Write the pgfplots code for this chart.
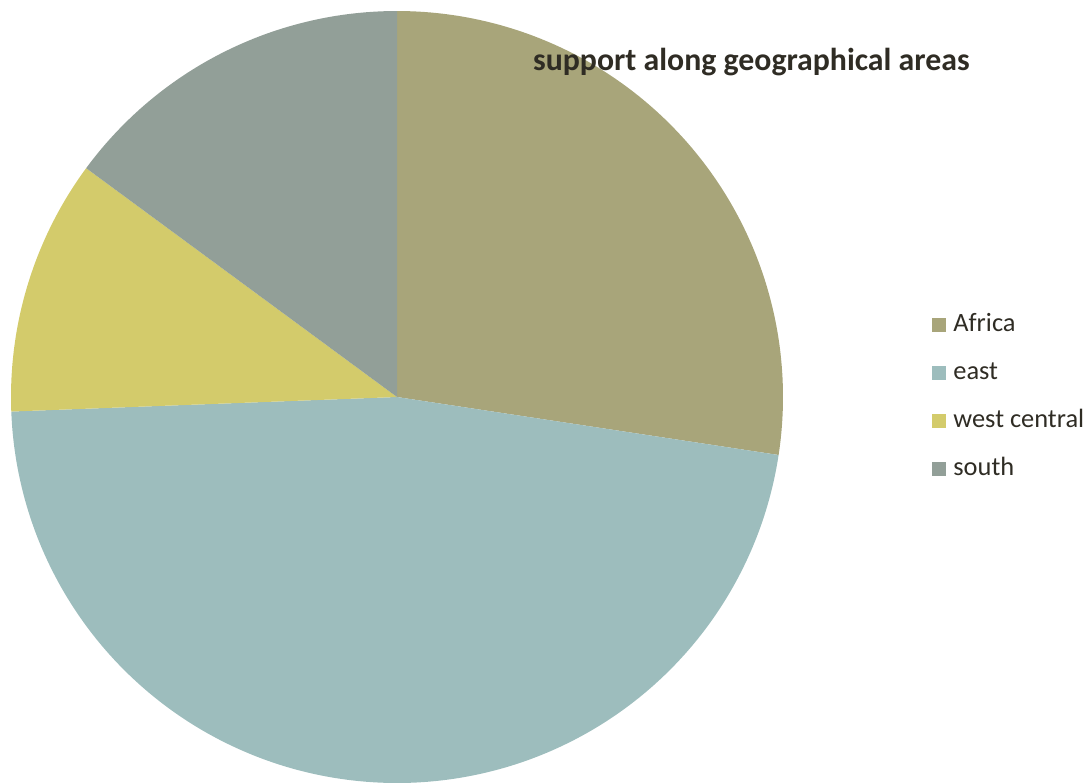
\documentclass[border=0pt]{standalone}
\usepackage{pgfplots}
\pgfplotsset{compat=1.18}
\usepackage{pgfplotstable}
\usepackage{fontspec}
\setmainfont{Carlito}

\definecolor{cAfrica}{HTML}{A8A57A}
\definecolor{cEast}{HTML}{9DBDBD}
\definecolor{cWest}{HTML}{D3CB6B}
\definecolor{cSouth}{HTML}{929F98}
\definecolor{txt}{HTML}{2F2C24}

% share of each area, in percent
\pgfplotstableread[col sep=comma]{
area,value
Africa,27.4
east,47.0
west central,10.7
south,14.9
}\piedata

% slice angles, clockwise from 12 o'clock
\def\cum{0}
\pgfplotsforeachungrouped \i in {0,...,3}{%
  \pgfplotstablegetelem{\i}{value}\of\piedata
  \pgfmathsetmacro\cumnew{\cum+\pgfplotsretval}%
  \pgfmathsetmacro\a{90-3.6*\cum}%
  \pgfmathsetmacro\b{90-3.6*\cumnew}%
  \edef\L{\ifcase\i A\or B\or C\or D\fi}%
  \expandafter\xdef\csname angStart\L\endcsname{\a}%
  \expandafter\xdef\csname angEnd\L\endcsname{\b}%
  \xdef\cum{\cumnew}%
}

\begin{document}
\begin{tikzpicture}
\useasboundingbox (-198.5pt,-192.5pt) rectangle (346.5pt,198.5pt);
\begin{axis}[
    at={(0pt,0pt)}, anchor=center,
    scale only axis, width=386pt, height=386pt,
    xmin=-1, xmax=1, ymin=-1, ymax=1,
    hide axis, clip=false,
    title={\textbf{support along geographical areas}},
    title style={at={(0.959,0.908)}, anchor=base, font=\fontsize{15.9}{18}\selectfont, text=txt},
    legend style={at={(axis cs:1.386,0)}, anchor=west, draw=none, fill=none,
        inner sep=0pt, row sep=13pt, font=\fontsize{13.2}{15}\selectfont, text=txt,
        nodes={inner sep=0pt, text height=8.5pt, text depth=2.5pt}},
    legend cell align=left,
    legend image code/.code={\fill[#1] (0pt,-3.5pt) rectangle (7pt,3.5pt);},
    /tikz/every odd column/.append style={column sep=3.5pt},
]
\addplot[fill=cAfrica, draw=none, domain=\angEndA:\angStartA, samples=120]
    ({cos(x)},{sin(x)}) -- (axis cs:0,0) -- cycle;
\addlegendentry{Africa}
\addplot[fill=cEast, draw=none, domain=\angEndB:\angStartB, samples=180]
    ({cos(x)},{sin(x)}) -- (axis cs:0,0) -- cycle;
\addlegendentry{east}
\addplot[fill=cWest, draw=none, domain=\angEndC:\angStartC, samples=60]
    ({cos(x)},{sin(x)}) -- (axis cs:0,0) -- cycle;
\addlegendentry{west central}
\addplot[fill=cSouth, draw=none, domain=\angEndD:\angStartD, samples=60]
    ({cos(x)},{sin(x)}) -- (axis cs:0,0) -- cycle;
\addlegendentry{south}
\end{axis}
\end{tikzpicture}
\end{document}
